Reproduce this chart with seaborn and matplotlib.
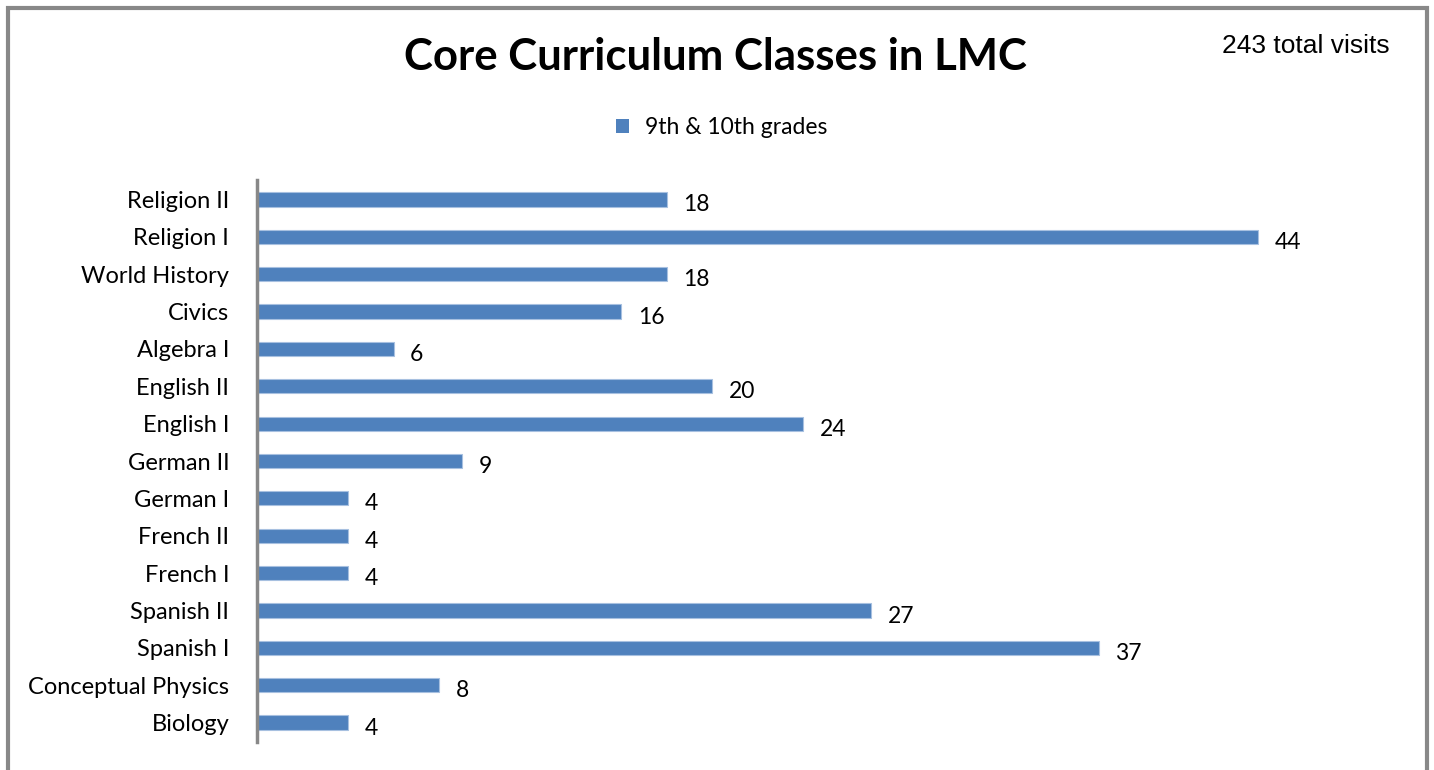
import matplotlib.pyplot as plt
from matplotlib.patches import Rectangle, Patch
import seaborn as sns
import pandas as pd

classes = [
    "Religion II", "Religion I", "World History", "Civics", "Algebra I",
    "English II", "English I", "German II", "German I", "French II",
    "French I", "Spanish II", "Spanish I", "Conceptual Physics", "Biology",
]
visits = [18, 44, 18, 16, 6, 20, 24, 9, 4, 4, 4, 27, 37, 8, 4]
series_name = "9th & 10th grades"
total_label = "243 total visits"

df = pd.DataFrame({"cls": classes, "visits": visits})

sns.set_style("white")
plt.rcParams["font.family"] = ["Lato", "DejaVu Sans"]
plt.rcParams["text.color"] = "black"
plt.rcParams["ytick.color"] = "black"

bar_color = "#4F81BD"

fig = plt.figure(figsize=(14.34, 7.7), dpi=100)
ax = fig.add_axes([257 / 1434, 1 - 742 / 770, 1137.5 / 1434, 562 / 770])

sns.barplot(data=df, x="visits", y="cls", orient="h", color=bar_color,
            saturation=1, width=0.38, edgecolor="#A7C0E0", linewidth=0.8, ax=ax)

ax.set_xlim(0, 50)
ax.set_ylim(14.52, -0.52)
ax.set_xlabel("")
ax.set_ylabel("")
ax.set_xticks([])
ax.tick_params(axis="y", length=0, pad=20, labelsize=17, labelcolor="black")
for s in ["top", "right", "bottom"]:
    ax.spines[s].set_visible(False)
ax.spines["left"].set_color("#888888")
ax.spines["left"].set_linewidth(2.5)

for i, v in enumerate(visits):
    ax.annotate(str(v), (v, i), xytext=(12, -4), textcoords="offset points",
                ha="left", va="center", fontsize=16.5, color="black")

fig.text(715 / 1434, 1 - 57 / 770, "Core Curriculum Classes in LMC",
         ha="center", va="center", fontsize=31.5, fontweight="bold", color="black")
fig.text(1390 / 1434, 1 - 46 / 770, total_label, ha="right", va="center",
         fontsize=19, color="black", family=["Liberation Sans", "DejaVu Sans"])

handle = Patch(facecolor=bar_color, edgecolor="none")
fig.legend([handle], [series_name], loc="center", bbox_to_anchor=(722 / 1434, 1 - 128 / 770),
           frameon=False, fontsize=16.5, handlelength=0.55, handleheight=0.55,
           handletextpad=0.7, labelcolor="black")

# chart frame
fig.patches.append(Rectangle((8 / 1434, -0.05), 1419 / 1434, 1 - 8 / 770 + 0.05,
                             transform=fig.transFigure, fill=False,
                             edgecolor="#888888", linewidth=3))

fig.savefig("out.png", dpi=100)
